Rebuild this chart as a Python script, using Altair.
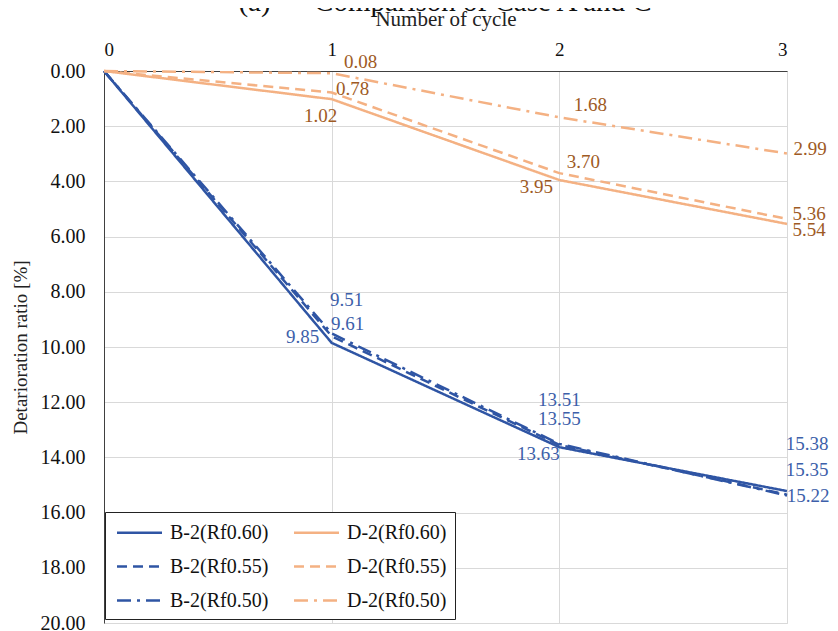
import altair as alt
import pandas as pd

cycles = [0, 1, 2, 3]
series_names = ["B-2(Rf0.60)", "B-2(Rf0.55)", "B-2(Rf0.50)", "D-2(Rf0.60)", "D-2(Rf0.55)", "D-2(Rf0.50)"]
b60 = [0.0, 9.85, 13.63, 15.22]
b55 = [0.0, 9.61, 13.55, 15.35]
b50 = [0.0, 9.51, 13.51, 15.38]
d60 = [0.0, 1.02, 3.95, 5.54]
d55 = [0.0, 0.78, 3.70, 5.36]
d50 = [0.0, 0.08, 1.68, 2.99]

values = {
    "B-2(Rf0.60)": b60, "B-2(Rf0.55)": b55, "B-2(Rf0.50)": b50,
    "D-2(Rf0.60)": d60, "D-2(Rf0.55)": d55, "D-2(Rf0.50)": d50,
}

# label placement offsets (pixels) for cycles 1..3, style only
label_offsets = {
    "B-2(Rf0.60)": [(-29, -6), (-21, 7), (21, 5)],
    "B-2(Rf0.55)": [(16, -12), (0, -26), (20, -25)],
    "B-2(Rf0.50)": [(15, -33), (0, -44), (20, -51)],
    "D-2(Rf0.60)": [(-11, 17), (-23, 7), (22, 6)],
    "D-2(Rf0.55)": [(21, -4), (24, -11), (22, -5)],
    "D-2(Rf0.50)": [(29, -11), (31, -12), (23, -5)],
}

BLUE = "#2F55A4"
ORANGE = "#F4B183"
BLUE_TXT = "#3D5FAA"
ORANGE_TXT = "#9E5A24"
FONT = "Liberation Serif"

rows = []
for s in series_names:
    for i, c in enumerate(cycles):
        rows.append({"series": s, "cycle": c, "value": values[s][i]})
df = pd.DataFrame(rows)

x_scale = alt.Scale(domain=[0, 3], nice=False, zero=False)
y_scale = alt.Scale(domain=[0, 20], reverse=True, nice=False)

x_axis = alt.Axis(orient="top", values=cycles, format="d", title="Number of cycle",
                  titleFontSize=21, titleFont=FONT, titleFontWeight="normal",
                  titleColor="#222", titlePadding=11,
                  labelFontSize=19, labelFont=FONT, labelColor="#111",
                  labelPadding=12, ticks=False, domainColor="#404040",
                  gridColor="#D9D9D9", labelOverlap=False)
y_axis = alt.Axis(values=list(range(0, 21, 2)), format=".2f",
                  title="Detarioration ratio [%]", titleFontSize=19, titleFont=FONT,
                  titleFontWeight="normal", titleColor="#222", titlePadding=10,
                  labelFontSize=20, labelFont=FONT, labelColor="#111",
                  labelPadding=19, ticks=False, domainColor="#404040",
                  gridColor="#D9D9D9", labelOverlap=False)

SOLID = [1, 0]
DASH = [10, 6]
DASHDOT = [14, 6, 3, 6]
dash_range = [SOLID, DASH, DASHDOT, SOLID, DASH, DASHDOT]
color_range = [BLUE, BLUE, BLUE, ORANGE, ORANGE, ORANGE]

lines = alt.Chart(df).mark_line(strokeWidth=2.5).encode(
    x=alt.X("cycle:Q", scale=x_scale, axis=x_axis),
    y=alt.Y("value:Q", scale=y_scale, axis=y_axis),
    color=alt.Color("series:N", scale=alt.Scale(domain=series_names, range=color_range),
                    legend=alt.Legend(title=None)),
    strokeDash=alt.StrokeDash("series:N", scale=alt.Scale(domain=series_names, range=dash_range),
                              legend=alt.Legend(title=None)),
    detail="series:N",
)

layers = [lines]
for s in series_names:
    col = BLUE_TXT if s.startswith("B") else ORANGE_TXT
    for i in range(1, 4):
        dx, dy = label_offsets[s][i - 1]
        one = pd.DataFrame({"cycle": [cycles[i]], "value": [values[s][i]],
                            "label": [f"{values[s][i]:.2f}"]})
        layers.append(
            alt.Chart(one).mark_text(font=FONT, fontSize=19, align="center", baseline="middle",
                                     color=col, dx=dx, dy=dy).encode(
                x=alt.X("cycle:Q", scale=x_scale, axis=x_axis),
                y=alt.Y("value:Q", scale=y_scale, axis=y_axis),
                text="label:N",
            )
        )

title_text = "(a)" + "\u00a0" * 6 + "Comparison of Case A and C"
title = alt.Chart(pd.DataFrame({"t": [title_text]})).mark_text(
    font=FONT, fontSize=29, align="center", baseline="alphabetic", color="#111"
).encode(x=alt.value(341), y=alt.value(-60), text="t:N")
layers.append(title)

chart = alt.layer(*layers).properties(
    width=683, height=552,
    autosize=alt.AutoSizeParams(type="none"),
    padding={"left": 96, "top": 63, "right": 43, "bottom": 8},
).configure_view(stroke="#404040", strokeWidth=1.2).configure(background="white").configure_legend(
    orient="none", legendX=1, legendY=441, columns=2,
    symbolType="M-2,0L2,0", symbolSize=506, symbolStrokeWidth=2.5,
    symbolOffset=14, labelOffset=18,
    labelFont=FONT, labelFontSize=20, labelColor="#111",
    columnPadding=20, rowPadding=11, padding=8,
    strokeColor="#222", fillColor="white", labelLimit=300,
)

chart.save("out.html", embed_options={"renderer": "svg", "actions": False})
